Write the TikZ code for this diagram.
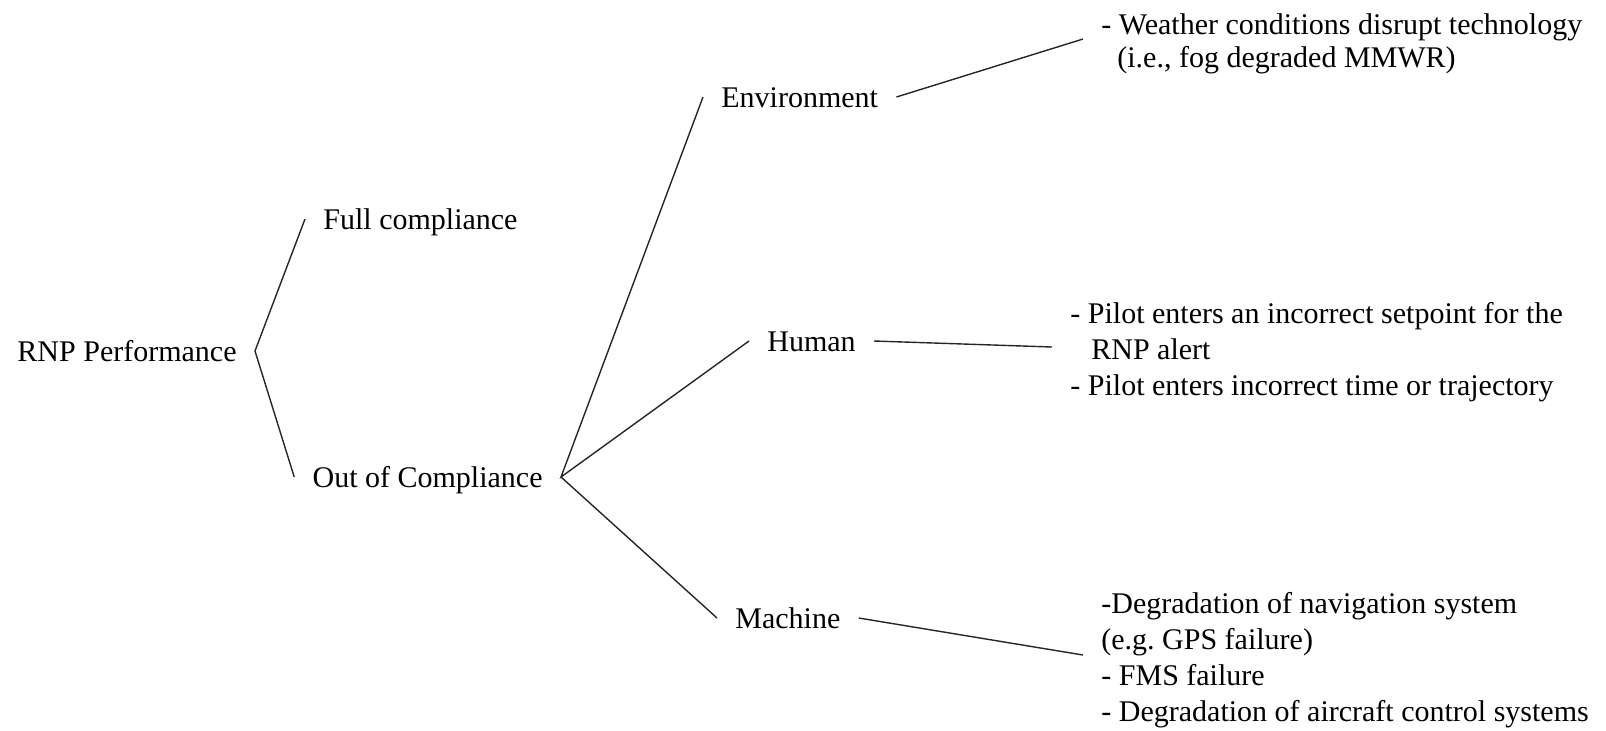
\documentclass[tikz,border=0pt]{standalone}
\usepackage{fontspec}
\setmainfont{Liberation Serif}
\begin{document}
\begin{tikzpicture}[x=0.5pt,y=-0.5pt,
  lbl/.style={inner xsep=9pt, inner ysep=0pt, font=\fontsize{15}{18}\selectfont, text height=12.5pt, text depth=2pt},
  blk/.style={inner xsep=9pt, inner ysep=0pt, font=\fontsize{15}{18}\selectfont, align=left},
  conn/.style={line width=0.7pt, black!85}]
\useasboundingbox (0,0) rectangle (1606,730);
\node[lbl, anchor=east] (rnp) at (255,351) {RNP Performance};
\node[lbl, anchor=west] (full) at (305,219) {Full compliance};
\node[lbl, anchor=east] (ooc) at (561,477) {Out of Compliance};
\node[lbl, anchor=west] (env) at (703,97) {Environment};
\node[lbl, anchor=west] (human) at (749,341) {Human};
\node[lbl, anchor=west] (machine) at (717,618) {Machine};
\node[blk, anchor=west, font=\fontsize{15}{16.5}\selectfont] (weather) at (1083,44)
  {- Weather conditions disrupt technology\\\hspace*{8pt}(i.e., fog degraded MMWR)};
\node[blk, anchor=west] (pilot) at (1052,352)
  {- Pilot enters an incorrect setpoint for the\\\hspace*{10.5pt}RNP alert\\- Pilot enters incorrect time or trajectory};
\node[blk, anchor=west] (degr) at (1083,660)
  {-Degradation of navigation system\\(e.g.\ GPS failure)\\- FMS failure\\- Degradation of aircraft control systems};
\draw[conn] (full.west) -- (rnp.east) -- (ooc.west);
\draw[conn] (env.west) -- (ooc.east) -- (human.west);
\draw[conn] (ooc.east) -- (machine.west);
\draw[conn] (env.east) -- ([yshift=2.5pt]weather.west);
\draw[conn] (human.east) -- ([yshift=2.5pt]pilot.west);
\draw[conn] (machine.east) -- ([yshift=2.5pt]degr.west);
\end{tikzpicture}
\end{document}
